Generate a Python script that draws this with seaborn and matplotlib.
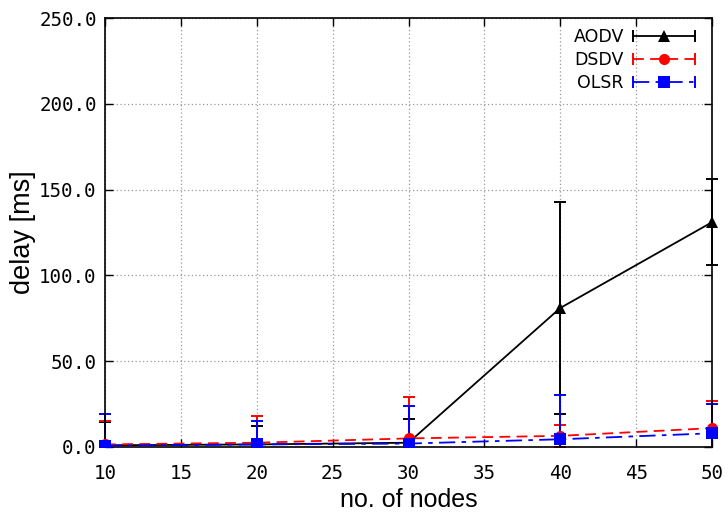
import matplotlib
matplotlib.use("Agg")
import matplotlib.pyplot as plt
from matplotlib.lines import Line2D
from matplotlib.patches import Rectangle
from matplotlib.legend_handler import HandlerBase
from matplotlib.ticker import FormatStrFormatter, MultipleLocator
import seaborn as sns
import pandas as pd

# Mean end-to-end delay per protocol with its spread
nodes = [10, 20, 30, 40, 50]
aodv_delay = [1.0, 1.5, 2.5, 81.0, 131.0]
dsdv_delay = [1.5, 2.5, 5.0, 6.5, 11.0]
olsr_delay = [0.8, 1.5, 2.0, 4.5, 8.0]
aodv_err = [13.5, 11.0, 14.0, 61.5, 25.0]
dsdv_err = [13.5, 15.7, 24.0, 6.3, 16.0]
olsr_err = [18.4, 13.5, 22.0, 26.0, 17.0]
protocols = ["AODV", "DSDV", "OLSR"]

sns.set_theme(style="ticks")
plt.rcParams["font.family"] = ["DejaVu Sans"]
plt.rcParams["text.color"] = "black"
plt.rcParams["axes.labelcolor"] = "black"

rows = []
for name, vals in zip(protocols, [aodv_delay, dsdv_delay, olsr_delay]):
    for n, v in zip(nodes, vals):
        rows.append({"nodes": n, "delay": v, "protocol": name})
df = pd.DataFrame(rows)

colors = {"AODV": "black", "DSDV": "red", "OLSR": "blue"}
markers = {"AODV": "^", "DSDV": "o", "OLSR": "s"}
dashes = {"AODV": "", "DSDV": (6, 3.5), "OLSR": (9, 3.5, 2.5, 3.5)}
errs = {"AODV": aodv_err, "DSDV": dsdv_err, "OLSR": olsr_err}
means = {"AODV": aodv_delay, "DSDV": dsdv_delay, "OLSR": olsr_delay}

fig = plt.figure(figsize=(7.28, 5.19), dpi=100)
ax = fig.add_axes([105 / 728, 1 - 447 / 519, (712 - 105) / 728, (447 - 18) / 519])

# clip only vertically so marks at the x limits stay whole
clip_rect = Rectangle((-0.04, 0), 1.08, 1, transform=ax.transAxes,
                      facecolor="none", edgecolor="none")

for name in protocols:
    cont = ax.errorbar(nodes, means[name], yerr=errs[name], fmt="none",
                       ecolor=colors[name], elinewidth=1.4, capsize=4.5,
                       capthick=1.4, zorder=2)
    for art in cont.lines[1] + tuple(cont.lines[2]):
        art.set_clip_path(clip_rect)

sns.lineplot(data=df, x="nodes", y="delay", hue="protocol", style="protocol",
             palette=colors, markers=markers, dashes=dashes, ax=ax,
             linewidth=1.3, markersize=8, markeredgewidth=0, legend=False,
             zorder=3)
for ln in ax.lines:
    ln.set_clip_path(clip_rect)

ax.set_xlim(10, 50)
ax.set_ylim(0, 250)
ax.xaxis.set_major_locator(MultipleLocator(5))
ax.yaxis.set_major_locator(MultipleLocator(50))
ax.yaxis.set_major_formatter(FormatStrFormatter("%.1f"))
ax.grid(True, color="#999999", linestyle=(0, (1, 2)), linewidth=0.9)
for sp in ax.spines.values():
    sp.set_color("black")
    sp.set_linewidth(1.2)
    sp.set_zorder(2.5)
ax.tick_params(direction="in", length=6, width=1, top=True, right=True,
               colors="black")
ax.tick_params(axis="x", pad=12)
ax.tick_params(axis="y", pad=6)
for lab in ax.get_xticklabels() + ax.get_yticklabels():
    lab.set_fontfamily("DejaVu Sans Mono")
    lab.set_fontsize(13.8)
ax.set_xlabel("no. of nodes", fontsize=18, family="Liberation Sans", labelpad=4)
ax.set_ylabel("delay [ms]", fontsize=19.5, family="Liberation Sans", labelpad=2)


class ErrorSampleHandler(HandlerBase):
    def create_artists(self, legend, orig_handle, xdescent, ydescent,
                       width, height, fontsize, trans):
        y = height / 2 - ydescent
        x0, x1 = -xdescent, -xdescent + width
        c = orig_handle.get_color()
        line = Line2D([x0, x1], [y, y], color=c, lw=1.3,
                      linestyle=orig_handle.get_linestyle())
        if orig_handle.get_linestyle() != "-":
            line.set_dashes(orig_handle.dash_pattern)
        caps = Line2D([x0, x1], [y, y], color=c, linestyle="none",
                      marker="|", markersize=8, markeredgewidth=1.4)
        mark = Line2D([(x0 + x1) / 2], [y], color=c, linestyle="none",
                      marker=orig_handle.get_marker(), markersize=8,
                      markeredgewidth=0)
        for a in (line, caps, mark):
            a.set_transform(trans)
        return [line, caps, mark]


handles = []
for name in protocols:
    h = Line2D([], [], color=colors[name], marker=markers[name],
               linestyle="-" if name == "AODV" else "--")
    h.dash_pattern = dashes[name]
    handles.append(h)

leg = fig.legend(handles, protocols, loc="upper right",
                 bbox_to_anchor=(695 / 728, 1 - 28 / 519), frameon=False,
                 markerfirst=False, handlelength=3.6, handletextpad=0.5,
                 labelspacing=0.3, borderpad=0, borderaxespad=0, fontsize=12.5,
                 handler_map={Line2D: ErrorSampleHandler()})
for t in leg.get_texts():
    t.set_color("black")

fig.savefig("out.png", dpi=100)
